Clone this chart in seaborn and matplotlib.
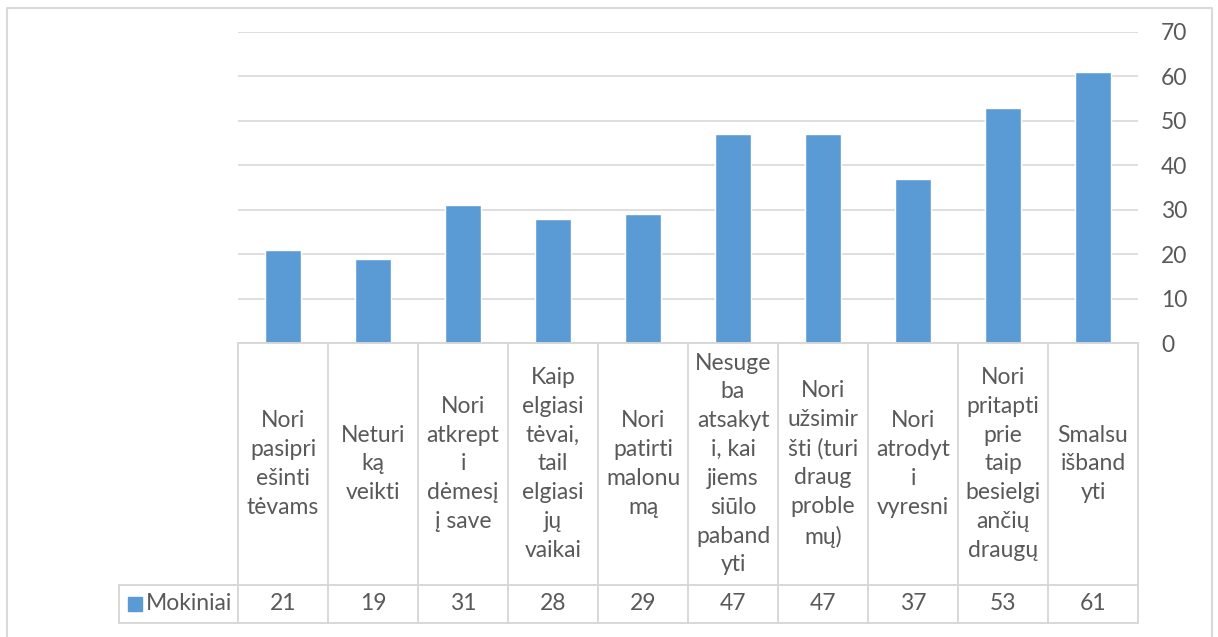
import matplotlib.pyplot as plt
import matplotlib.transforms as mtransforms
from matplotlib.lines import Line2D
from matplotlib.patches import Rectangle
import seaborn as sns
import pandas as pd

# Duomenys
categories = [
    "Nori\npasipri\nešinti\ntėvams",
    "Neturi\nką\nveikti",
    "Nori\natkrept\ni\ndėmesį\nį save",
    "Kaip\nelgiasi\ntėvai,\ntail\nelgiasi\njų\nvaikai",
    "Nori\npatirti\nmalonu\nmą",
    "Nesuge\nba\natsakyt\ni, kai\njiems\nsiūlo\npaband\nyti",
    "Nori\nužsimir\nšti (turi\ndraug\nproble\nmų)",
    "Nori\natrodyt\ni\nvyresni",
    "Nori\npritapti\nprie\ntaip\nbesielgi\nančių\ndraugų",
    "Smalsu\nišband\nyti",
]
values = [21, 19, 31, 28, 29, 47, 47, 37, 53, 61]
series_name = "Mokiniai"
yticks = [0, 10, 20, 30, 40, 50, 60, 70]

df = pd.DataFrame({"cat": range(len(values)), "val": values})

sns.set_theme(style="white")
plt.rcParams['font.family'] = ['Lato', 'DejaVu Sans']

W, H = 1218, 637
BLUE = "#5B9BD5"
GRID = "#D9D9D9"
TXT = "#595959"
FS = 16.5

fig = plt.figure(figsize=(W / 100, H / 100), dpi=100)
fig.patch.set_facecolor("white")

# plot area (pixel coords -> figure fraction)
x0, x1 = 238, 1138
y_top, y_zero = 32, 343
ax = fig.add_axes([x0 / W, 1 - y_zero / H, (x1 - x0) / W, (y_zero - y_top) / H])

sns.barplot(data=df, x="cat", y="val", color=BLUE, width=0.4, saturation=1, ax=ax)
ax.set_xlim(-0.5, len(values) - 0.5)
ax.set_ylim(0, 70)
ax.set_yticks(yticks)
ax.yaxis.tick_right()
ax.tick_params(axis="y", length=0, pad=16.5, labelsize=FS, labelcolor=TXT)
for lab in ax.get_yticklabels():
    lab.set_horizontalalignment("left")
ax.set_xticks([])
ax.set_xlabel("")
ax.set_ylabel("")
for s in ax.spines.values():
    s.set_visible(False)
ax.grid(axis="y", color=GRID, linewidth=1.2)
ax.set_axisbelow(True)

# table
def fx(px):
    return px / W

def fy(py):
    return 1 - py / H

row_mid, row_bot = 585, 623
col_w = (x1 - x0) / len(values)
lw = 1.3
lc = "#D6D6D6"

# horizontal lines
fig.add_artist(Line2D([fx(x0), fx(x1)], [fy(y_zero), fy(y_zero)], color=lc, lw=lw))
fig.add_artist(Line2D([fx(119), fx(x1)], [fy(row_mid), fy(row_mid)], color=lc, lw=lw))
fig.add_artist(Line2D([fx(119), fx(x1)], [fy(row_bot), fy(row_bot)], color=lc, lw=lw))
# vertical lines
for i in range(len(values) + 1):
    xx = x0 + i * col_w
    fig.add_artist(Line2D([fx(xx), fx(xx)], [fy(y_zero), fy(row_bot)], color=lc, lw=lw))
fig.add_artist(Line2D([fx(119), fx(119)], [fy(row_mid), fy(row_bot)], color=lc, lw=lw))

# category labels and values, placed by data x
trans = mtransforms.blended_transform_factory(ax.transData, fig.transFigure)
for i, (c, v) in enumerate(zip(categories, values)):
    ax.text(i, fy((y_zero + row_mid) / 2), c, transform=trans, ha="center", va="center",
            fontsize=FS, color=TXT, linespacing=1.46, clip_on=False)
    ax.text(i, fy((row_mid + row_bot) / 2), str(v), transform=trans, ha="center",
            va="center", fontsize=FS, color=TXT, clip_on=False)

# legend key
fig.add_artist(Rectangle((fx(128), fy(611)), 14 / W, 14 / H, color=BLUE,
                         transform=fig.transFigure))
fig.text(fx(146), fy((row_mid + row_bot) / 2), series_name, ha="left", va="center",
         fontsize=FS, color=TXT)

# outer border
fig.add_artist(Line2D([fx(7), fx(7), fx(1212), fx(1212)],
                      [fy(H + 5), fy(8), fy(8), fy(H + 5)], color=GRID, lw=1.5))

plt.savefig("out.png", dpi=100)
